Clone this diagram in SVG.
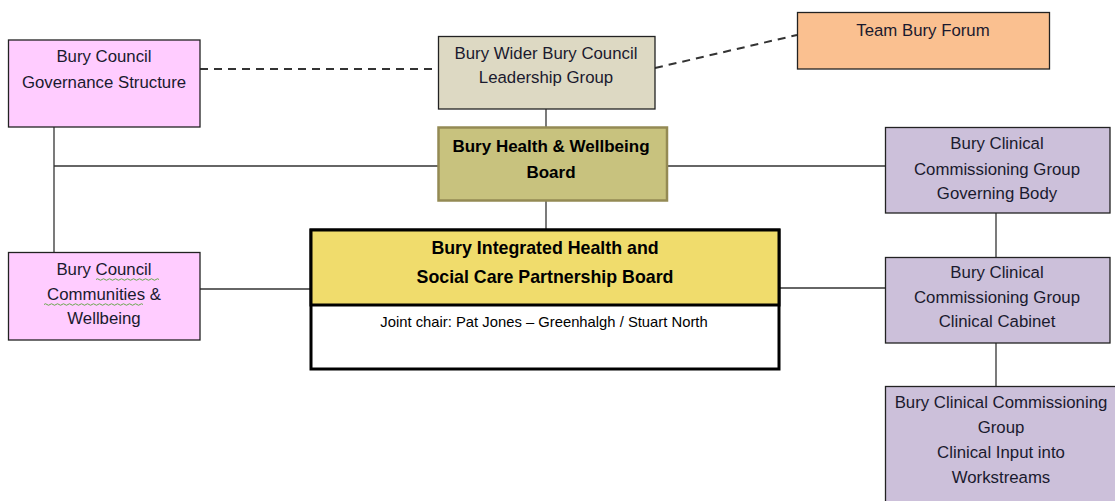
<svg xmlns="http://www.w3.org/2000/svg" width="1115" height="501" viewBox="0 0 1115 501">
<style>
.t{font-family:"Liberation Sans",Arial,sans-serif;font-size:16.8px;fill:#1a1a2e;text-anchor:middle}
.b{font-weight:bold;fill:#000}
.box{stroke:#222;stroke-width:1.3}
.ln{stroke:#333;stroke-width:1.3;fill:none}
.dash{stroke:#333;stroke-width:2;stroke-dasharray:8 6;fill:none}
.wavy{stroke:#6aa84f;stroke-width:1;fill:none}
</style>
<g id="connectors">
<path class="dash" d="M200 69 H438"/>
<path class="dash" d="M655 68 L797 35"/>
<path class="ln" d="M546 109 V127"/>
<path class="ln" d="M54 127 V252"/>
<path class="ln" d="M54 166 H438"/>
<path class="ln" d="M667 166 H885"/>
<path class="ln" d="M546 201 V229"/>
<path class="ln" d="M200 289 H310"/>
<path class="ln" d="M780 288 H885"/>
<path class="ln" d="M996 213 V257"/>
<path class="ln" d="M996 343 V386"/>
</g>
<g id="governance">
<rect class="box" x="8.5" y="40" width="191.5" height="87" fill="#FFCCFF"/>
<text class="t" x="104" y="62">Bury Council</text>
<text class="t" x="104" y="88">Governance Structure</text>
</g>
<g id="wider">
<rect class="box" x="438.5" y="36.5" width="216.5" height="72.5" fill="#DDD9C3"/>
<text class="t" x="546" y="59">Bury Wider Bury Council</text>
<text class="t" x="546" y="83">Leadership Group</text>
</g>
<g id="teambury">
<rect class="box" x="797.5" y="12.5" width="252" height="56.5" fill="#FAC090"/>
<text class="t" x="923" y="36">Team Bury Forum</text>
</g>
<g id="hwb">
<rect x="438.5" y="127.5" width="228.5" height="73" fill="#C8C27E" stroke="#948A54" stroke-width="2.5"/>
<text class="t b" x="551" y="152" style="font-size:17px">Bury Health &amp; Wellbeing</text>
<text class="t b" x="551" y="178" style="font-size:17px">Board</text>
</g>
<g id="ccg-gb">
<rect class="box" x="885.5" y="127.5" width="224.5" height="85.5" fill="#CCC0DA"/>
<text class="t" x="997" y="149">Bury Clinical</text>
<text class="t" x="997" y="175">Commissioning Group</text>
<text class="t" x="997" y="199">Governing Body</text>
</g>
<g id="communities">
<rect class="box" x="8.5" y="252.5" width="191.5" height="87.5" fill="#FFCCFF"/>
<text class="t" x="104" y="275">Bury Council</text>
<text class="t" x="104" y="300">Communities &amp;</text>
<text class="t" x="104" y="324">Wellbeing</text>
<path class="wavy" d="M96 279.5 q1.5 -1.5 3 0 t3 0 t3 0 t3 0 t3 0 t3 0 t3 0 t3 0 t3 0 t3 0 t3 0 t3 0 t3 0 t3 0 t3 0 t3 0 t3 0 t3 0 t3 0 t3 0 t3 0"/>
<path class="wavy" d="M44 304.5 q1.5 -1.5 3 0 t3 0 t3 0 t3 0 t3 0 t3 0 t3 0 t3 0 t3 0 t3 0 t3 0 t3 0 t3 0 t3 0 t3 0 t3 0 t3 0 t3 0 t3 0 t3 0 t3 0 t3 0 t3 0 t3 0 t3 0 t3 0 t3 0 t3 0 t3 0 t3 0 t3 0 t3 0 t3 0"/>
</g>
<g id="integrated">
<rect x="311" y="230" width="468" height="139" fill="#FFFFFF" stroke="#000" stroke-width="3"/>
<rect x="311" y="230" width="468" height="75" fill="#F0DC6C" stroke="#000" stroke-width="3"/>
<text class="t b" x="545" y="254" style="font-size:17.8px">Bury Integrated Health and</text>
<text class="t b" x="545" y="283" style="font-size:17.8px">Social Care Partnership Board</text>
<text class="t" x="544" y="327" style="font-size:14.8px;fill:#000">Joint chair: Pat Jones – Greenhalgh / Stuart North</text>
</g>
<g id="ccg-cabinet">
<rect class="box" x="885.5" y="257.5" width="224.5" height="85.5" fill="#CCC0DA"/>
<text class="t" x="997" y="278">Bury Clinical</text>
<text class="t" x="997" y="303">Commissioning Group</text>
<text class="t" x="997" y="327">Clinical Cabinet</text>
</g>
<g id="ccg-input">
<rect class="box" x="885.5" y="386.5" width="232" height="120" fill="#CCC0DA"/>
<text class="t" x="1001" y="408">Bury Clinical Commissioning</text>
<text class="t" x="1001" y="433">Group</text>
<text class="t" x="1001" y="458">Clinical Input into</text>
<text class="t" x="1001" y="483">Workstreams</text>
</g>
</svg>
